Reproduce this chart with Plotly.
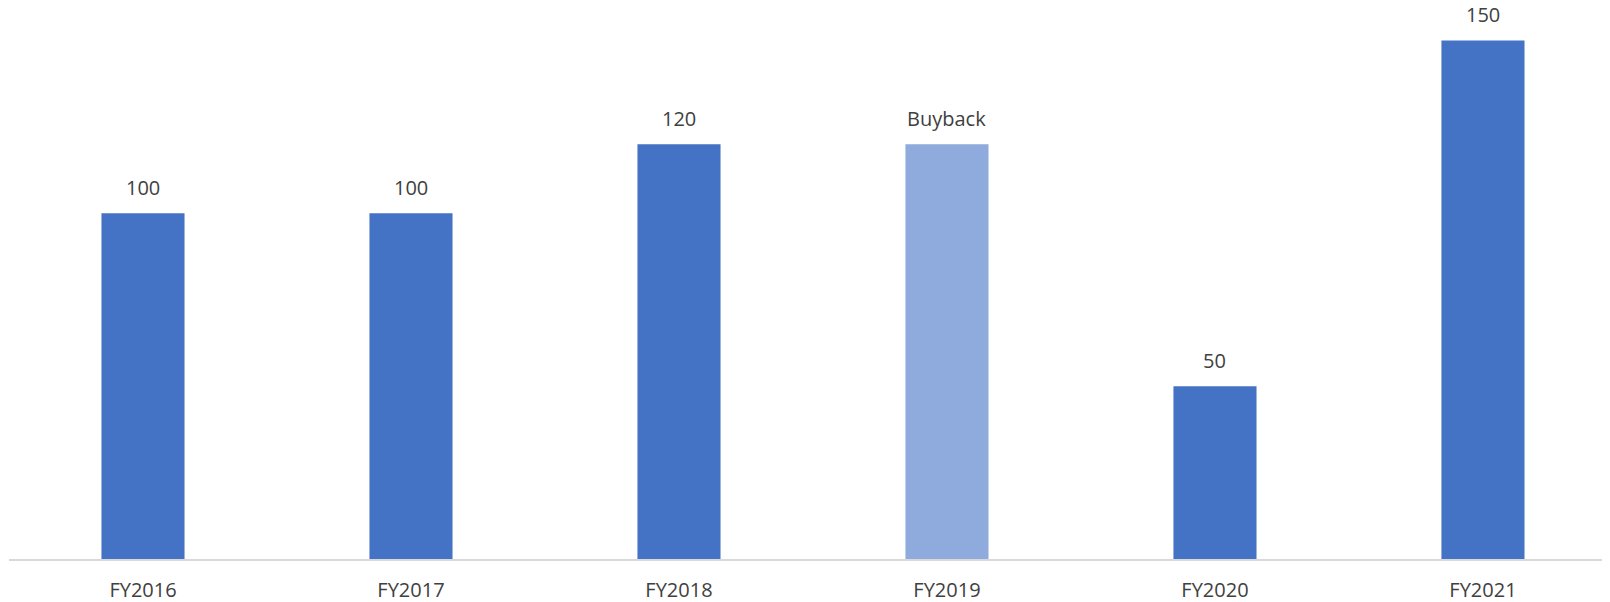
import plotly.graph_objects as go

categories = ["FY2016", "FY2017", "FY2018", "FY2019", "FY2020", "FY2021"]
values = [100, 100, 120, 120, 50, 150]
labels = ["100", "100", "120", "Buyback", "50", "150"]
colors = ["#4472C4", "#4472C4", "#4472C4", "#8FAADC", "#4472C4", "#4472C4"]

FONT = "Open Sans, Noto Sans, sans-serif"
TXT = "#404040"

fig = go.Figure()
fig.add_trace(go.Bar(
    x=list(range(len(categories))),
    y=values,
    marker=dict(color=colors, line=dict(width=0)),
    hoverinfo="skip",
))

for i, (v, lab) in enumerate(zip(values, labels)):
    fig.add_annotation(
        x=i, y=v, text=lab, showarrow=False,
        xanchor="center", yanchor="bottom", yshift=10,
        font=dict(family=FONT, size=20, color=TXT),
    )

fig.update_layout(
    width=1602, height=594,
    margin=dict(l=0.5, r=0, t=0, b=43),
    paper_bgcolor="white", plot_bgcolor="white",
    showlegend=False,
    bargap=0.69,
    xaxis=dict(
        range=[-0.5, 5.474],
        tickmode="array",
        tickvals=list(range(len(categories))),
        ticktext=categories,
        showline=True, linecolor="#D9D9D9", linewidth=1.5,
        showgrid=False, zeroline=False,
        ticks="", tickfont=dict(family=FONT, size=20, color=TXT),
        ticklabelstandoff=12,
    ),
    yaxis=dict(
        range=[0, 159.4],
        visible=False, showgrid=False, zeroline=False,
    ),
)

fig.write_html("out.html")
